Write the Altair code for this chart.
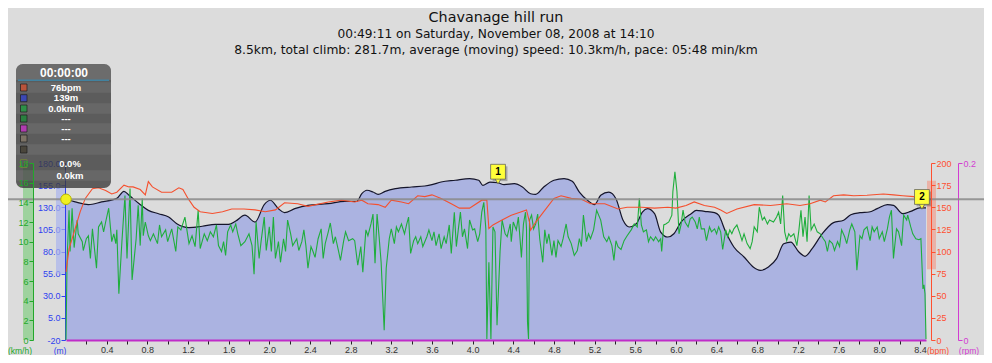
import altair as alt
import pandas as pd

# ---------------- data ----------------
elev_km = [0.00, 0.09, 0.22, 0.35, 0.50, 0.57, 0.62, 0.72, 0.81, 0.91,
           1.01, 1.09, 1.21, 1.34, 1.47, 1.60, 1.67, 1.76, 1.86, 1.95,
           2.01, 2.09, 2.15, 2.25, 2.38, 2.58, 2.74, 2.86, 2.91, 2.96,
           3.02, 3.07, 3.14, 3.24, 3.40, 3.53, 3.60, 3.69, 3.83, 3.97,
           4.06, 4.10, 4.17, 4.25, 4.31, 4.41, 4.49, 4.57, 4.62, 4.70,
           4.80, 4.90, 4.98, 5.05, 5.13, 5.20, 5.26, 5.34, 5.41, 5.48,
           5.54, 5.61, 5.67, 5.72, 5.79, 5.85, 5.92, 5.98, 6.05, 6.15,
           6.20, 6.28, 6.38, 6.42, 6.49, 6.57, 6.67, 6.76, 6.83, 6.91,
           6.99, 7.06, 7.13, 7.21, 7.27, 7.34, 7.44, 7.55, 7.65, 7.72,
           7.81, 7.90, 7.98, 8.08, 8.14, 8.23, 8.31, 8.40, 8.46]
elev_m = [139, 136, 133, 136, 140, 148, 143.5, 134, 126.5, 122.7,
          119, 111.4, 107, 108.5, 110.7, 110.7, 114.5, 121, 113.3, 133,
          137.9, 128.4, 123.9, 128.4, 132.2, 134, 136.7, 136.7, 145.3, 149.2,
          147.2, 144.6, 148, 151, 152.9, 154, 155.5, 158.5, 160.5, 162.3,
          160.5, 154.8, 158.5, 157.7, 155.5, 156.6, 152.9, 145.3, 144.6, 152.9,
          160.5, 162.3, 159.3, 147.2, 137.9, 133, 143.5, 147.2, 139.7, 115.3,
          107.7, 111.4, 124.6, 128.4, 122.7, 102, 96.4, 100.1, 113.3, 122.7,
          126.5, 125.4, 123.9, 121, 102, 85.1, 73.8, 62.5, 58.7, 62.5,
          71.9, 88.8, 90.7, 79.4, 74.6, 83.2, 100.1, 112.6, 115.3, 121.6,
          123.9, 124.6, 128.4, 133, 132.2, 122.7, 125.4, 129.2, 129.2]

hr_km = [0.00, 0.03, 0.08, 0.14, 0.19, 0.26, 0.32, 0.39, 0.45, 0.50,
         0.57, 0.62, 0.66, 0.73, 0.78, 0.81, 0.85, 0.94, 1.04, 1.11,
         1.15, 1.20, 1.26, 1.32, 1.44, 1.54, 1.63, 1.75, 1.86, 1.96,
         2.06, 2.15, 2.28, 2.38, 2.58, 2.71, 2.84, 2.91, 2.97, 3.07,
         3.14, 3.20, 3.30, 3.37, 3.46, 3.53, 3.60, 3.69, 3.79, 3.87,
         3.97, 4.09, 4.14, 4.16, 4.20, 4.28, 4.38, 4.48, 4.53, 4.56,
         4.57, 4.62, 4.70, 4.80, 4.87, 4.97, 5.07, 5.16, 5.30, 5.43,
         5.52, 5.66, 5.79, 5.92, 6.00, 6.10, 6.18, 6.28, 6.38, 6.44,
         6.50, 6.60, 6.77, 6.93, 7.09, 7.22, 7.32, 7.42, 7.47, 7.55,
         7.65, 7.75, 7.88, 8.04, 8.14, 8.23, 8.34, 8.44]
hr_bpm = [77, 103, 122, 145, 160, 171, 172, 169, 165, 167,
          175, 173, 173, 170, 164, 179, 173, 167, 167, 172,
          170, 160, 150, 145, 143, 145, 148, 148, 147, 145,
          147, 155, 154, 151, 156, 158, 156, 158, 154, 153,
          150, 158, 156, 154, 163, 162, 164, 160, 154, 149,
          149, 158, 158, 126, 130, 135, 141, 145, 147, 133,
          124, 133, 145, 160, 163, 160, 159, 154, 154, 148,
          150, 150, 149, 150, 149, 152, 156, 152, 150, 147,
          143, 148, 153, 152, 154, 152, 154, 158, 156, 163,
          164, 163, 163.5, 165, 164, 163, 162, 150]

spd_km = [0.00, 0.01, 0.03, 0.04, 0.06, 0.08, 0.11, 0.12, 0.16, 0.17,
          0.20, 0.22, 0.24, 0.26, 0.27, 0.30, 0.32, 0.35, 0.37, 0.39,
          0.42, 0.45, 0.47, 0.49, 0.50, 0.52, 0.55, 0.58, 0.60, 0.63,
          0.65, 0.69, 0.71, 0.73, 0.75, 0.76, 0.78, 0.81, 0.83, 0.86,
          0.90, 0.92, 0.94, 0.98, 1.00, 1.04, 1.08, 1.10, 1.13, 1.17,
          1.21, 1.24, 1.27, 1.30, 1.32, 1.36, 1.39, 1.42, 1.45, 1.48,
          1.50, 1.53, 1.55, 1.57, 1.59, 1.62, 1.64, 1.67, 1.69, 1.72,
          1.76, 1.80, 1.83, 1.85, 1.87, 1.90, 1.92, 1.95, 1.97, 2.00,
          2.02, 2.04, 2.06, 2.09, 2.11, 2.14, 2.16, 2.18, 2.21, 2.23,
          2.27, 2.29, 2.32, 2.34, 2.36, 2.38, 2.41, 2.43, 2.45, 2.48,
          2.51, 2.53, 2.55, 2.58, 2.60, 2.63, 2.65, 2.68, 2.70, 2.73,
          2.75, 2.78, 2.82, 2.84, 2.87, 2.90, 2.92, 2.95, 2.97, 3.00,
          3.02, 3.04, 3.06, 3.08, 3.10, 3.13, 3.15, 3.18, 3.20, 3.23,
          3.25, 3.27, 3.30, 3.33, 3.35, 3.37, 3.39, 3.42, 3.44, 3.46,
          3.49, 3.51, 3.55, 3.57, 3.60, 3.62, 3.64, 3.67, 3.69, 3.72,
          3.74, 3.77, 3.79, 3.82, 3.84, 3.86, 3.88, 3.90, 3.92, 3.95,
          3.97, 4.00, 4.02, 4.05, 4.07, 4.09, 4.11, 4.13, 4.14, 4.16,
          4.18, 4.20, 4.22, 4.24, 4.27, 4.29, 4.32, 4.34, 4.37, 4.38,
          4.40, 4.43, 4.45, 4.47, 4.48, 4.50, 4.52, 4.53, 4.54, 4.55,
          4.56, 4.58, 4.60, 4.62, 4.64, 4.66, 4.69, 4.71, 4.73, 4.75,
          4.78, 4.80, 4.82, 4.84, 4.87, 4.89, 4.92, 4.94, 4.97, 5.00,
          5.03, 5.05, 5.07, 5.09, 5.12, 5.14, 5.16, 5.19, 5.22, 5.26,
          5.29, 5.32, 5.34, 5.37, 5.39, 5.41, 5.43, 5.46, 5.49, 5.52,
          5.56, 5.59, 5.62, 5.64, 5.66, 5.68, 5.71, 5.73, 5.75, 5.78,
          5.80, 5.83, 5.85, 5.86, 5.88, 5.90, 5.93, 5.96, 5.97, 5.99,
          6.01, 6.03, 6.05, 6.07, 6.09, 6.12, 6.14, 6.16, 6.19, 6.21,
          6.23, 6.25, 6.28, 6.30, 6.33, 6.35, 6.38, 6.40, 6.42, 6.44,
          6.46, 6.49, 6.51, 6.53, 6.55, 6.57, 6.60, 6.63, 6.65, 6.67,
          6.70, 6.73, 6.75, 6.77, 6.80, 6.82, 6.85, 6.87, 6.90, 6.92,
          6.96, 6.99, 7.01, 7.03, 7.05, 7.07, 7.09, 7.11, 7.13, 7.16,
          7.19, 7.21, 7.23, 7.25, 7.27, 7.29, 7.31, 7.33, 7.36, 7.39,
          7.42, 7.45, 7.47, 7.49, 7.51, 7.54, 7.56, 7.59, 7.61, 7.63,
          7.66, 7.68, 7.71, 7.73, 7.76, 7.78, 7.81, 7.83, 7.85, 7.88,
          7.91, 7.93, 7.95, 7.98, 8.00, 8.03, 8.05, 8.08, 8.10, 8.12,
          8.14, 8.17, 8.19, 8.22, 8.24, 8.27, 8.28, 8.31, 8.33, 8.36,
          8.39, 8.41, 8.43, 8.44, 8.45, 8.46]
spd_kmh = [0, 7.9, 13.2, 9.0, 13.4, 9.4, 12.2, 10.8, 10.0, 9.1,
           10.3, 10.6, 8.3, 11.3, 10.3, 7.3, 11.5, 12.0, 11.0, 12.0,
           13.4, 10.0, 10.8, 9.8, 11.2, 4.7, 10.0, 14.7, 8.3, 15.4,
           6.1, 10.3, 13.7, 9.6, 14.4, 10.6, 12.0, 10.6, 10.1, 10.8,
           9.8, 11.7, 10.5, 11.2, 10.0, 11.3, 9.0, 11.5, 11.2, 12.5,
           9.8, 10.6, 9.5, 13.2, 9.3, 10.8, 10.1, 11.0, 10.5, 11.7,
           9.6, 9.0, 10.0, 8.6, 11.0, 11.7, 11.0, 11.8, 10.8, 9.6,
           10.0, 10.8, 9.6, 6.7, 12.0, 8.3, 10.1, 12.5, 9.1, 11.5,
           9.0, 12.5, 8.3, 10.0, 7.9, 10.3, 9.0, 12.2, 10.8, 9.6,
           10.3, 9.1, 10.0, 11.2, 9.6, 7.3, 9.5, 9.0, 8.4, 10.3,
           11.3, 8.3, 9.8, 11.0, 11.9, 9.8, 10.5, 9.1, 8.1, 10.0,
           11.0, 10.1, 10.3, 10.1, 7.6, 9.5, 6.9, 11.2, 10.6, 11.8,
           12.8, 7.8, 12.8, 10.5, 7.9, 1.0, 7.3, 10.3, 11.3, 9.8,
           11.5, 11.0, 11.8, 10.8, 11.7, 12.5, 8.8, 10.1, 10.5, 9.8,
           10.5, 9.5, 10.5, 11.2, 10.1, 11.0, 9.6, 10.8, 9.3, 10.5,
           9.8, 11.7, 8.8, 13.0, 9.5, 11.3, 13.0, 10.5, 11.3, 9.3,
           12.2, 11.2, 11.3, 10.0, 10.8, 13.0, 14.0, 11.3, 0.1, 7.9,
           0.1, 11.5, 11.0, 1.5, 9.0, 12.2, 10.8, 10.5, 11.8, 10.0,
           12.0, 11.2, 12.5, 9.8, 8.4, 11.8, 13.0, 11.3, 1.8, 0.1,
           12.2, 12.7, 11.3, 11.8, 12.8, 10.3, 7.9, 11.2, 9.8, 10.8,
           8.6, 10.1, 8.4, 10.1, 9.5, 10.3, 11.8, 10.5, 9.8, 8.6,
           9.1, 10.3, 9.5, 12.7, 10.0, 10.8, 10.3, 11.2, 13.2, 12.2,
           10.5, 10.0, 10.5, 9.6, 8.1, 10.1, 9.5, 9.2, 10.1, 10.6,
           11.2, 11.8, 11.5, 14.4, 11.7, 11.0, 11.2, 10.0, 10.5, 10.1,
           10.5, 10.0, 10.3, 9.0, 11.7, 11.8, 12.0, 12.7, 15.1, 17.1,
           15.1, 10.8, 11.7, 13.2, 12.0, 11.5, 12.3, 12.5, 12.0, 11.3,
           12.5, 11.3, 11.3, 10.1, 11.5, 11.0, 11.3, 10.8, 11.5, 11.0,
           9.2, 11.2, 10.5, 11.2, 10.8, 11.3, 11.7, 10.8, 10.1, 10.8,
           9.8, 9.3, 10.0, 11.5, 11.0, 13.5, 12.2, 12.5, 11.8, 12.2,
           12.0, 12.5, 13.0, 11.8, 14.7, 11.0, 10.1, 10.8, 10.5, 10.8,
           9.6, 11.2, 13.2, 10.5, 12.5, 10.0, 14.7, 11.2, 11.8, 11.0,
           10.8, 10.3, 10.0, 9.0, 10.1, 9.8, 9.1, 10.0, 9.5, 11.2,
           10.5, 9.8, 11.2, 11.8, 11.0, 7.1, 10.6, 10.3, 11.2, 11.5,
           10.1, 11.5, 11.0, 11.5, 10.3, 11.0, 10.0, 11.3, 12.5, 13.2,
           8.3, 11.3, 11.0, 9.6, 12.7, 12.2, 12.7, 11.5, 10.8, 10.3,
           10.2, 10.3, 5.2, 5.6, 4.7, 0.1]

cursor_km = [0.0]
cursor_elev = [139]
marker_km = [4.25, 8.42]
marker_elev = [157.7, 129.2]
marker_label = ["1", "2"]

speed_band = [0, 18]
elev_band = [55, 155]
hr_band = [80, 180]

km_ticks = [0.2, 0.4, 0.6, 0.8, 1.0, 1.2, 1.4, 1.6, 1.8, 2.0, 2.2, 2.4, 2.6, 2.8,
            3.0, 3.2, 3.4, 3.6, 3.8, 4.0, 4.2, 4.4, 4.6, 4.8, 5.0, 5.2, 5.4, 5.6,
            5.8, 6.0, 6.2, 6.4, 6.6, 6.8, 7.0, 7.2, 7.4, 7.6, 7.8, 8.0, 8.2, 8.4]
elev_ticks = [-20, 5, 30, 55, 80, 105, 130, 155, 180]
speed_ticks = [0, 2, 4, 6, 8, 10, 12, 14, 16, 18]
hr_ticks = [0, 25, 50, 75, 100, 125, 150, 175, 200]
rpm_ticks = [0, 0.2]

title_text = "Chavanage hill run"
subtitle_lines = ["00:49:11 on Saturday, November 08, 2008 at 14:10",
                  "8.5km, total climb: 281.7m, average (moving) speed: 10.3km/h, pace: 05:48 min/km"]
tip_header = "00:00:00"
tip_values = ["76bpm", "139m", "0.0km/h", "---", "---", "---", "", "0.0%", "0.0km"]
unit_labels = ["(km/h)", "(m)", "(bpm)", "(rpm)"]

# ---------------- styling ----------------
W, H = 860, 177
FONT = "Liberation Sans"
TFONT = "DejaVu Sans"
BLUE = "#2f3ff0"
GREEN = "#22a82a"
RED = "#ff5030"
MAGENTA = "#d23cd2"

xs = alt.Scale(domain=[0, 8.46], nice=False, zero=False)
es = alt.Scale(domain=[-20, 180], nice=False, zero=False)
ss = alt.Scale(domain=[0, 18], nice=False, zero=False)
hs = alt.Scale(domain=[0, 200], nice=False, zero=False)
rs = alt.Scale(domain=[0, 0.2], nice=False, zero=False)

x_axis = alt.Axis(orient="bottom", values=km_ticks,
                  labelExpr="(round(datum.value*10) % 4 == 0) ? format(datum.value, '.1f') : ''",
                  domainColor="#c02cc8", domainWidth=2, tickColor="#222", tickSize=4,
                  labelColor="#333", labelFont=FONT, labelFontSize=9, labelPadding=1,
                  grid=False, title=None, zindex=1, labelFlush=False, labelOverlap=False)
X = alt.X("km:Q", scale=xs, axis=x_axis)


def yax(orient, offset, values, color, expr, z=0):
    return alt.Axis(orient=orient, offset=offset, values=values, labelExpr=expr,
                    domainColor=color, tickColor=color, labelColor=color, tickSize=4,
                    labelPadding=1, labelFont=FONT, labelFontSize=9, grid=False,
                    title=None, labelOverlap=False, zindex=z)


elev_axis = yax("left", 1, elev_ticks, BLUE,
                "datum.value == -20 ? '-20' : format(datum.value, '.1f')")
spd_axis = yax("left", 33, speed_ticks, GREEN, "format(datum.value, 'd')", z=1)
hr_axis = yax("right", 5, hr_ticks, RED, "format(datum.value, 'd')", z=1)
rpm_axis = yax("right", 32, rpm_ticks, MAGENTA, "datum.value == 0 ? '0' : '0.2'")

df0 = pd.DataFrame({"d": [0]})


def rect_px(x1, x2, y1, y2, **kw):
    return alt.Chart(df0).mark_rect(**kw).encode(
        x=alt.value(x1), x2=alt.value(x2), y=alt.value(y1), y2=alt.value(y2))


def text_px(txt, x, y, **kw):
    return alt.Chart(df0).mark_text(text=txt, **kw).encode(x=alt.value(x), y=alt.value(y))


layers = []

# side bands
layers.append(alt.Chart(pd.DataFrame({"lo": [speed_band[0]], "hi": [speed_band[1]]}))
              .mark_rect(color="#8fd08f", opacity=0.8)
              .encode(x=alt.value(-43), x2=alt.value(-33),
                      y=alt.Y("lo:Q", scale=ss, axis=None), y2="hi:Q"))
layers.append(alt.Chart(pd.DataFrame({"lo": [elev_band[0]], "hi": [elev_band[1]]}))
              .mark_rect(color="#a9b3ec", opacity=0.7)
              .encode(x=alt.value(-10), x2=alt.value(-1),
                      y=alt.Y("lo:Q", scale=es, axis=None), y2="hi:Q"))
layers.append(alt.Chart(pd.DataFrame({"lo": [hr_band[0]], "hi": [hr_band[1]]}))
              .mark_rect(color="#f0a090", opacity=0.7)
              .encode(x=alt.value(861), x2=alt.value(870),
                      y=alt.Y("lo:Q", scale=hs, axis=None), y2="hi:Q"))

# elevation profile
layers.append(alt.Chart(pd.DataFrame({"km": elev_km, "elev": elev_m}))
              .mark_area(color="#abb3e1", opacity=1, interpolate="monotone",
                         line={"color": "#15152a", "strokeWidth": 1.2})
              .encode(x=X, y=alt.Y("elev:Q", scale=es, axis=elev_axis), y2=alt.datum(-20)))

# speed
layers.append(alt.Chart(pd.DataFrame({"km": spd_km, "spd": spd_kmh}))
              .mark_line(color="#1fae3c", strokeWidth=1.1)
              .encode(x=X, y=alt.Y("spd:Q", scale=ss, axis=spd_axis)))

# heart rate
layers.append(alt.Chart(pd.DataFrame({"km": hr_km, "hr": hr_bpm}))
              .mark_line(color="#f5502e", strokeWidth=1.1)
              .encode(x=X, y=alt.Y("hr:Q", scale=hs, axis=hr_axis)))

# rpm axis (no data drawn)
layers.append(alt.Chart(pd.DataFrame({"r": rpm_ticks}))
              .mark_rule(opacity=0)
              .encode(y=alt.Y("r:Q", scale=rs, axis=rpm_axis)))

# cursor line and dot
layers.append(alt.Chart(pd.DataFrame({"e": cursor_elev}))
              .mark_rule(color="#8a8a8a", strokeWidth=2, opacity=0.85)
              .encode(y=alt.Y("e:Q", scale=es, axis=None),
                      x=alt.value(-58), x2=alt.value(W + 58)))
layers.append(alt.Chart(pd.DataFrame({"km": cursor_km, "e": cursor_elev}))
              .mark_circle(size=110, color="#f0f020", opacity=1, stroke="#b5b500", strokeWidth=1)
              .encode(x=X, y=alt.Y("e:Q", scale=es, axis=None)))

# lap markers
mk = pd.DataFrame({"km": marker_km, "e": marker_elev, "n": marker_label})
mk_y = alt.Y("e:Q", scale=es, axis=None)
layers.append(alt.Chart(mk).mark_square(size=220, color="#000", opacity=0.25, xOffset=2, yOffset=-9)
              .encode(x=X, y=mk_y))
layers.append(alt.Chart(mk).mark_point(shape="triangle-down", filled=True, size=55, fill="#ffff3a",
                                       stroke="#555", strokeWidth=0.7, opacity=1, yOffset=-2)
              .encode(x=X, y=mk_y))
layers.append(alt.Chart(mk).mark_square(size=220, fill="#ffff3a", stroke="#555", strokeWidth=0.7,
                                        opacity=1, yOffset=-11)
              .encode(x=X, y=mk_y))
layers.append(alt.Chart(mk).mark_text(font=FONT, fontSize=10, fontWeight="bold", color="#000",
                                      yOffset=-11, baseline="middle")
              .encode(x=X, y=mk_y, text="n:N"))

# tooltip panel
BX1, BX2, BY1, BY2 = -50, 45, -99, 25
layers.append(rect_px(BX1, BX2, BY1, BY2, color="#383838", opacity=0.78, cornerRadius=7))
layers.append(rect_px(BX1, BX2, BY1, -83, color="#8a8a8a", opacity=0.35,
                      cornerRadiusTopLeft=7, cornerRadiusTopRight=7))
layers.append(rect_px(BX1 + 2, BX2 - 2, -83.5, -82, color="#3f86a6", opacity=0.9))
layers.append(text_px(tip_header, -2, -90.5, font=FONT, fontSize=12, fontWeight="bold",
                      color="#ffffff", align="center", baseline="middle"))
row_y = [-75.5, -64.8, -54.5, -44.5, -34.5, -24.5, -13.5, 0.5, 12.5]
row_sq = ["#b8543c", "#3c48b4", "#2e9048", "#2a8040", "#b03cb0", "#7d7366", "#4a463c", None, None]
for i, cy in enumerate(row_y):
    if i % 2 == 0:
        layers.append(rect_px(BX1, BX2, cy - 5.2, cy + 5.2, color="#9a9a9a", opacity=0.18))
    if row_sq[i]:
        layers.append(rect_px(-45.5, -39, cy - 3.5, cy + 3.5, color=row_sq[i],
                              stroke="#1c1c1c", strokeWidth=0.7))
    if tip_values[i]:
        layers.append(text_px(tip_values[i], 0 if i < 7 else 4, cy, font=FONT, fontSize=9.5,
                              fontWeight="bold", color="#ffffff", align="center",
                              baseline="middle"))
layers.append(rect_px(-45.5, -39, row_y[7] - 4, row_y[7] + 4, fill="transparent",
                      stroke="#6e7a40", strokeWidth=1))

# titles
layers.append(text_px(title_text, W / 2, -145, font=TFONT, fontSize=14.3, color="#111",
                      align="center", baseline="middle"))
layers.append(text_px(subtitle_lines[0], W / 2, -129, font=TFONT, fontSize=12.2, color="#111",
                      align="center", baseline="middle"))
layers.append(text_px(subtitle_lines[1], W / 2, -113, font=TFONT, fontSize=12.3, color="#111",
                      align="center", baseline="middle"))

# unit labels under the axes
for txt, xpos, col in zip(unit_labels, [-46, -6, 872, 903], [GREEN, BLUE, RED, MAGENTA]):
    layers.append(text_px(txt, xpos, H + 10.5, font=FONT, fontSize=8.5, color=col,
                          align="center", baseline="middle"))

chart = (alt.layer(*layers)
         .resolve_scale(y="independent")
         .properties(width=W, height=H,
                     padding={"left": 58, "top": 155, "right": 58, "bottom": 15},
                     autosize=alt.AutoSizeParams(type="none"))
         .configure(background="#dcdcdc")
         .configure_view(strokeWidth=0))

chart.save("out.html", embed_options={"renderer": "svg", "actions": False})
